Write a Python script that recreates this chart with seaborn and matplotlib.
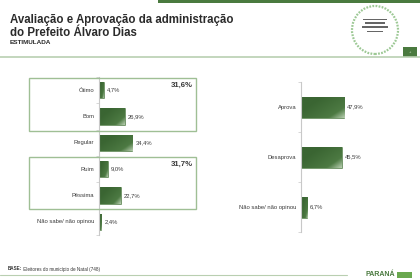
import numpy as np
import pandas as pd
import matplotlib
matplotlib.use("Agg")
import matplotlib.pyplot as plt
import seaborn as sns
from matplotlib.patches import Rectangle, Ellipse
from matplotlib.colors import LinearSegmentedColormap

# ---------------- data ----------------
aval_cats = ["Ótimo", "Bom", "Regular", "Ruim", "Péssima", "Não sabe/ não opinou"]
aval_vals = [4.7, 26.9, 34.4, 9.0, 22.7, 2.4]
aval_labels = ["4,7%", "26,9%", "34,4%", "9,0%", "22,7%", "2,4%"]
group_totals = ["31,6%", "31,7%"]

aprov_cats = ["Aprova", "Desaprova", "Não sabe/ não opinou"]
aprov_vals = [47.9, 45.5, 6.7]
aprov_labels = ["47,9%", "45,5%", "6,7%"]

title_lines = ["Avaliação e Aprovação da administração", "do Prefeito Álvaro Dias"]
subtitle = "ESTIMULADA"
base_bold = "BASE:"
base_text = " Eleitores do município de Natal (748)"

# ---------------- style ----------------
sns.set_theme(style="white")
plt.rcParams["font.family"] = ["Liberation Sans", "DejaVu Sans"]

W, H = 420, 280
fig = plt.figure(figsize=(W / 100, H / 100), dpi=100)
fig.patch.set_facecolor("white")

DARK = "#3f6b37"
LINE_GREEN = "#b9cfb1"
BOX_GREEN = "#9fbf95"
TEXT = "#3a3a3a"


def fx(x):
    return x / W


def fy(y):
    return 1 - y / H


def add_ax(x0, y0, x1, y1):
    return fig.add_axes([fx(x0), fy(y1), fx(x1) - fx(x0), (y1 - y0) / H])


cmap = LinearSegmentedColormap.from_list("g", ["#3a6532", "#436f3a", "#4d7a43", "#c9dcc2"])


def gradient_bars(ax):
    for p in ax.patches:
        x, y = p.get_x(), p.get_y()
        w, h = p.get_width(), p.get_height()
        if w <= 0:
            continue
        n = 40
        gx, gy = np.meshgrid(np.linspace(0, 1, n), np.linspace(0, 1, n))
        g = np.clip((gx * 0.75 + gy * 0.55) - 0.35, 0, 1)
        im = ax.imshow(g, extent=[x, x + w, y + h, y], cmap=cmap, aspect="auto",
                       zorder=p.get_zorder() + 0.1, interpolation="bilinear",
                       vmin=0, vmax=1)
        im.set_clip_path(p)
        p.set_edgecolor("#5a8650")
        p.set_linewidth(0.4)


def style_axis(ax, n):
    ax.set_ylim(n - 0.5, -0.5)
    for s in ["top", "right", "bottom"]:
        ax.spines[s].set_visible(False)
    ax.spines["left"].set_color("#c8c8c8")
    ax.spines["left"].set_linewidth(0.8)
    ax.set_xticks([])
    ax.set_yticks(np.arange(-0.5, n, 1.0))
    ax.set_yticklabels([])
    ax.tick_params(axis="y", length=2, width=0.5, color="#c8c8c8", left=True, pad=0)
    ax.set_xlabel("")
    ax.set_ylabel("")
    ax.patch.set_alpha(0)


# ---------------- left chart ----------------
axL = add_ax(99, 77, 195, 235)
dfL = pd.DataFrame({"cat": aval_cats, "val": aval_vals})
sns.barplot(data=dfL, x="val", y="cat", orient="h", color=DARK, width=0.63,
            ax=axL, saturation=1)
axL.set_xlim(0, 100)
style_axis(axL, len(aval_cats))
gradient_bars(axL)
for i, (v, lab, c) in enumerate(zip(aval_vals, aval_labels, aval_cats)):
    axL.text(v + 3.5, i, lab, va="center", ha="left", fontsize=4.2, color=TEXT)
    axL.text(-5, i, c, va="center", ha="right", fontsize=4.2, color=TEXT)

# group boxes
fig.add_artist(Rectangle((fx(29), fy(131)), fx(196) - fx(29), (131 - 78) / H,
                         fill=False, ec=BOX_GREEN, lw=1.0, transform=fig.transFigure))
fig.add_artist(Rectangle((fx(29), fy(209)), fx(196) - fx(29), (209 - 157) / H,
                         fill=False, ec=BOX_GREEN, lw=1.0, transform=fig.transFigure))
fig.text(fx(193), fy(85), group_totals[0], ha="right", va="center", fontsize=5.6,
         fontweight="bold", color=TEXT)
fig.text(fx(193), fy(164), group_totals[1], ha="right", va="center", fontsize=5.6,
         fontweight="bold", color=TEXT)

# ---------------- right chart ----------------
axR = add_ax(301, 82, 400, 232)
dfR = pd.DataFrame({"cat": aprov_cats, "val": aprov_vals})
sns.barplot(data=dfR, x="val", y="cat", orient="h", color=DARK, width=0.42,
            ax=axR, saturation=1)
axR.set_xlim(0, 110)
style_axis(axR, len(aprov_cats))
gradient_bars(axR)
for i, (v, lab, c) in enumerate(zip(aprov_vals, aprov_labels, aprov_cats)):
    axR.text(v + 3.5, i, lab, va="center", ha="left", fontsize=4.2, color=TEXT)
    axR.text(-5, i, c, va="center", ha="right", fontsize=4.2, color=TEXT)

# ---------------- header ----------------
fig.add_artist(Rectangle((fx(158), fy(2.5)), fx(420) - fx(158), 2.5 / H,
                         fc="#4a7a3f", ec="none", transform=fig.transFigure))
fig.text(fx(10), fy(20), title_lines[0], ha="left", va="center", fontsize=8.3,
         fontweight="bold", color="#2b2b2b")
fig.text(fx(10), fy(32.5), title_lines[1], ha="left", va="center", fontsize=8.3,
         fontweight="bold", color="#2b2b2b")
fig.text(fx(10), fy(43), subtitle, ha="left", va="center", fontsize=4.6,
         fontweight="bold", color="#2b2b2b")
fig.add_artist(plt.Line2D([0, 1], [fy(57), fy(57)], color=LINE_GREEN, lw=1.2,
                          transform=fig.transFigure))
# logo ring
fig.add_artist(Ellipse((fx(375), fy(30)), 46 / W, 48 / H, fill=False, ec="#9cc894",
                       lw=1.6, ls=(0, (0.8, 0.6)), transform=fig.transFigure))
for yy, ww, hh in [(19.5, 24, 1.2), (23, 20, 1.8), (27, 26, 1.8), (31, 16, 1.0)]:
    fig.add_artist(Rectangle((fx(375 - ww / 2), fy(yy + hh / 2)), ww / W, hh / H,
                             fc="#666666", ec="none", transform=fig.transFigure))
fig.add_artist(Rectangle((fx(403), fy(57)), 14 / W, 10 / H, fc="#4a7a3f", ec="none",
                         transform=fig.transFigure))
fig.text(fx(410), fy(52), "+", ha="center", va="center", fontsize=3, color="#cfe0c8")

# ---------------- footer ----------------
t = fig.text(fx(8), fy(269), base_bold, ha="left", va="center", fontsize=3.3,
             fontweight="bold", color="#333333")
fig.canvas.draw()
bb = t.get_window_extent()
fig.text(bb.x1 / W, fy(269), base_text, ha="left", va="center", fontsize=3.3,
         color="#333333")
fig.add_artist(plt.Line2D([0, fx(347)], [fy(275), fy(275)], color=LINE_GREEN, lw=0.8,
                          transform=fig.transFigure))
fig.text(fx(395), fy(274.5), "PARANÁ", ha="right", va="center", fontsize=5.0,
         fontweight="bold", color="#4a7a3f")
fig.add_artist(Rectangle((fx(397), fy(278)), 15 / W, 6 / H, fc="#6aa84f", ec="none",
                         transform=fig.transFigure))

fig.savefig("out.png", dpi=100, facecolor="white")
